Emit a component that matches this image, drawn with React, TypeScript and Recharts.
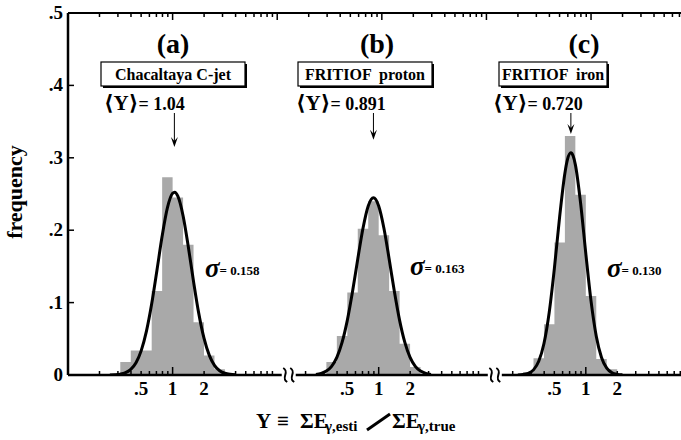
import React from "react";
import { ComposedChart, Area, Line, Scatter, XAxis, YAxis } from "recharts";

// ---- panel descriptions ----
const panelNames = ["(a)", "(b)", "(c)"];
const panelSamples = ["Chacaltaya C-jet", "FRITIOF  proton", "FRITIOF  iron"];
const meanY = [1.04, 0.891, 0.72];
const meanLabels = ["1.04", "0.891", "0.720"];
const sigmaLabels = ["0.158", "0.163", "0.130"];
// where log10(Y)=0 of each panel sits along the broken axis (in decades)
const panelOffsets = [0, 1.97, 3.95];
const axisBreaks = [1.11, 3.08];
// arrow tip heights (frequency)
const arrowTips = [0.315, 0.325, 0.333];

// ---- histograms: bin edges in log10(Y), frequencies ----
const histAEdges = [-0.5, -0.4, -0.3, -0.2, -0.1, 0, 0.1, 0.2, 0.3, 0.4, 0.5];
const histAFreq = [0.018, 0.034, 0.034, 0.116, 0.273, 0.245, 0.18, 0.073, 0.027, 0.008];
const histBEdges = [-0.5, -0.4, -0.3, -0.2, -0.1, 0, 0.1, 0.2, 0.3, 0.4];
const histBFreq = [0.018, 0.054, 0.114, 0.202, 0.24, 0.193, 0.116, 0.043, 0.011];
const histCEdges = [-0.6, -0.5, -0.4, -0.3, -0.2, -0.1, 0, 0.1, 0.2, 0.3];
const histCFreq = [0.004, 0.023, 0.07, 0.183, 0.33, 0.249, 0.109, 0.022, 0.008];

// ---- fitted curves: log10(Y), frequency ----
const curveAX = [-0.6, -0.55, -0.5, -0.45, -0.4, -0.35, -0.3, -0.25, -0.2, -0.15, -0.1, -0.05, 0, 0.02, 0.05, 0.1, 0.15, 0.2, 0.25, 0.3, 0.35, 0.4, 0.45, 0.5, 0.55, 0.6];
const curveAY = [0.0001, 0.0004, 0.0012, 0.0032, 0.0078, 0.017, 0.0337, 0.0606, 0.0983, 0.1444, 0.192, 0.2308, 0.251, 0.2525, 0.247, 0.22, 0.1772, 0.1291, 0.0851, 0.0508, 0.0274, 0.0134, 0.0059, 0.0024, 0.0009, 0.0003];
const curveBX = [-0.6, -0.55, -0.5, -0.45, -0.4, -0.35, -0.3, -0.25, -0.2, -0.15, -0.1, -0.05, 0, 0.05, 0.1, 0.15, 0.2, 0.25, 0.3, 0.35, 0.4, 0.45, 0.5];
const curveBY = [0.0008, 0.0022, 0.0054, 0.012, 0.0244, 0.045, 0.0755, 0.1153, 0.1602, 0.2027, 0.2334, 0.2447, 0.2334, 0.2027, 0.1602, 0.1153, 0.0755, 0.045, 0.0244, 0.012, 0.0054, 0.0022, 0.0008];
const curveCX = [-0.65, -0.6, -0.55, -0.5, -0.45, -0.4, -0.35, -0.3, -0.25, -0.2, -0.175, -0.143, -0.12, -0.1, -0.05, 0, 0.05, 0.1, 0.15, 0.2, 0.25, 0.3, 0.35];
const curveCY = [0.0001, 0.0006, 0.0023, 0.0071, 0.0189, 0.0435, 0.0864, 0.148, 0.2187, 0.2788, 0.2978, 0.3069, 0.3021, 0.2906, 0.2376, 0.1676, 0.102, 0.0535, 0.0242, 0.0095, 0.0032, 0.0009, 0.0002];

// ---- axes ----
const yTicks = [0, 0.1, 0.2, 0.3, 0.4, 0.5];
const yTickLabels = ["0", ".1", ".2", ".3", ".4", ".5"];
const bottomTickMultipliers = [0.2, 0.3, 0.4, 0.5, 0.6, 0.7, 0.8, 0.9, 1, 2, 3, 4, 5, 6, 7, 8, 9];
const labeledMultipliers = [0.5, 1, 2];
const labeledTexts = [".5", "1", "2"];
const topTickDecades = [-1, 0, 1, 2, 3, 4];
const topTickMultipliers = [1, 2, 3, 4, 5, 6, 7, 8, 9];
const xDomain: [number, number] = [-1, 4.946];

const FONT = "'Liberation Serif', 'DejaVu Serif', serif";

const histTables = [
  [histAEdges, histAFreq],
  [histBEdges, histBFreq],
  [histCEdges, histCFreq],
].map(([edges, freq], p) => {
  const pts = freq.map((f, i) => ({ x: panelOffsets[p] + edges[i], y: f }));
  pts.push({ x: panelOffsets[p] + edges[edges.length - 1], y: freq[freq.length - 1] });
  return pts;
});

const curveTables = [
  [curveAX, curveAY],
  [curveBX, curveBY],
  [curveCX, curveCY],
].map(([xs, ys], p) => xs.map((v, i) => ({ x: panelOffsets[p] + v, y: ys[i] })));

const arrowData = meanY.map((m, p) => ({ x: panelOffsets[p] + Math.log10(m), y: arrowTips[p] }));

type TickMeta = { g: number; kind: "minor" | "major" | "break"; label?: string };
const bottomMeta: TickMeta[] = [];
panelOffsets.forEach((off) => {
  bottomTickMultipliers.forEach((m) => {
    const g = off + Math.log10(m);
    if (g > xDomain[1]) return;
    const li = labeledMultipliers.indexOf(m);
    bottomMeta.push({ g, kind: m === 1 ? "major" : "minor", label: li >= 0 ? labeledTexts[li] : undefined });
  });
});
axisBreaks.forEach((b) => bottomMeta.push({ g: b, kind: "break" }));
const bottomTicks = bottomMeta.map((t) => t.g);

const topMeta: TickMeta[] = [];
topTickDecades.forEach((k) => {
  topTickMultipliers.forEach((m) => {
    const g = k + Math.log10(m);
    if (g <= xDomain[0] + 1e-6 || g > xDomain[1]) return;
    topMeta.push({ g, kind: m === 1 ? "major" : "minor" });
  });
});
const topTicks = topMeta.map((t) => t.g);

const BottomTick = (props: any) => {
  const { x, y, payload } = props;
  const meta = bottomMeta.find((t) => Math.abs(t.g - payload.value) < 1e-9);
  if (!meta) return null;
  if (meta.kind === "break") {
    return (
      <g>
        <rect x={x - 7} y={y - 3} width={14} height={6} fill="#fff" />
        {[-3.5, 3.5].map((dx) => (
          <path
            key={dx}
            d={`M ${x + dx - 2} ${y - 7} C ${x + dx + 5} ${y - 3}, ${x + dx - 5} ${y + 3}, ${x + dx + 2} ${y + 7}`}
            stroke="#000"
            strokeWidth={2}
            fill="none"
          />
        ))}
      </g>
    );
  }
  const len = meta.kind === "major" ? 8 : 4;
  return (
    <g>
      <line x1={x} x2={x} y1={y} y2={y - len} stroke="#000" strokeWidth={1.5} />
      {meta.label && (
        <text x={x} y={y + 20} textAnchor="middle" fontFamily={FONT} fontWeight="bold" fontSize={19} fill="#000">
          {meta.label}
        </text>
      )}
    </g>
  );
};

const TopTick = (props: any) => {
  const { x, y, payload } = props;
  const meta = topMeta.find((t) => Math.abs(t.g - payload.value) < 1e-9);
  if (!meta) return null;
  const len = meta.kind === "major" ? 7 : 4;
  return <line x1={x} x2={x} y1={y} y2={y + len} stroke="#000" strokeWidth={1.5} />;
};

const LeftTick = (props: any) => {
  const { x, y, payload } = props;
  const i = yTicks.findIndex((t) => Math.abs(t - payload.value) < 1e-9);
  return (
    <g>
      {i > 0 && i < yTicks.length - 1 && <line x1={x} x2={x + 6} y1={y} y2={y} stroke="#000" strokeWidth={1.5} />}
      <text x={x - 5} y={y + 6} textAnchor="end" fontFamily={FONT} fontWeight="bold" fontSize={19} fill="#000">
        {yTickLabels[i]}
      </text>
    </g>
  );
};

const ArrowShape = (props: any) => {
  const { cx, cy } = props;
  if (cx == null || cy == null) return null;
  return (
    <g>
      <line x1={cx} x2={cx} y1={113} y2={cy - 4} stroke="#000" strokeWidth={1} />
      <path d={`M ${cx - 3.5} ${cy - 10} L ${cx} ${cy} L ${cx + 3.5} ${cy - 10} L ${cx} ${cy - 6} Z`} fill="#000" />
    </g>
  );
};

const boxGeom = [
  { x: 101, w: 144 },
  { x: 298, w: 134 },
  { x: 499, w: 108 },
];
const titleX = [173, 377, 584];
const meanTextX = [104, 296, 493];
const sigmaX = [205, 410, 607];
const sigmaY = [277, 275, 277];

export default function App() {
  return (
    <div style={{ position: "absolute", left: 0, top: 0, width: 681, height: 440, overflow: "hidden", background: "#fff" }}>
      <ComposedChart width={700} height={440} margin={{ top: 12, right: 10, bottom: 64, left: 67 }}>
        <XAxis
          xAxisId="b"
          dataKey="x"
          type="number"
          domain={xDomain}
          allowDataOverflow
          ticks={bottomTicks}
          interval={0}
          tick={<BottomTick />}
          tickLine={false}
          tickSize={0}
          tickMargin={0}
          height={1}
          axisLine={{ stroke: "#000", strokeWidth: 2.5 }}
        />
        <XAxis
          xAxisId="t"
          orientation="top"
          dataKey="x"
          type="number"
          domain={xDomain}
          allowDataOverflow
          ticks={topTicks}
          interval={0}
          tick={<TopTick />}
          tickLine={false}
          tickSize={0}
          tickMargin={0}
          height={1}
          axisLine={{ stroke: "#000", strokeWidth: 2 }}
        />
        <YAxis
          yAxisId="y"
          type="number"
          domain={[0, 0.5]}
          allowDataOverflow
          ticks={yTicks}
          interval={0}
          tick={<LeftTick />}
          tickLine={false}
          tickSize={0}
          tickMargin={0}
          width={1}
          axisLine={{ stroke: "#000", strokeWidth: 2.5 }}
        />
        {histTables.map((d, p) => (
          <Area
            key={"h" + p}
            xAxisId="b"
            yAxisId="y"
            data={d}
            dataKey="y"
            type="stepAfter"
            stroke="none"
            fill="#a9a9a9"
            fillOpacity={1}
            isAnimationActive={false}
            dot={false}
            activeDot={false}
          />
        ))}
        {curveTables.map((d, p) => (
          <Line
            key={"c" + p}
            xAxisId="b"
            yAxisId="y"
            data={d}
            dataKey="y"
            type="monotone"
            stroke="#000"
            strokeWidth={3}
            dot={false}
            activeDot={false}
            isAnimationActive={false}
          />
        ))}
        <Scatter
          xAxisId="b"
          yAxisId="y"
          data={arrowData}
          dataKey="y"
          shape={<ArrowShape />}
          isAnimationActive={false}
        />
      </ComposedChart>
      <svg
        width={681}
        height={440}
        style={{ position: "absolute", left: 0, top: 0, pointerEvents: "none" }}
        fontFamily={FONT}
      >
        {panelNames.map((n, p) => (
          <g key={n}>
            <text x={titleX[p]} y={53} textAnchor="middle" fontWeight="bold" fontSize={28}>
              {n}
            </text>
            <rect x={boxGeom[p].x + 2} y={64} width={boxGeom[p].w} height={24} fill="#000" />
            <rect x={boxGeom[p].x} y={62} width={boxGeom[p].w} height={24} fill="#fff" stroke="#000" strokeWidth={1.2} />
            <text
              x={boxGeom[p].x + boxGeom[p].w / 2}
              y={79.5}
              textAnchor="middle"
              fontWeight="bold"
              fontSize={16}
              style={{ whiteSpace: "pre" }}
            >
              {panelSamples[p]}
            </text>
            <text x={meanTextX[p]} y={110} fontWeight="bold" fontSize={21} style={{ whiteSpace: "pre" }}>
              {"⟨Y⟩"}
              <tspan fontSize={18}>{"= " + meanLabels[p]}</tspan>
            </text>
            <text x={sigmaX[p]} y={sigmaY[p]} fontWeight="bold" style={{ whiteSpace: "pre" }}>
              <tspan fontSize={27} fontStyle="italic">σ</tspan>
              <tspan fontSize={13} dy={-2}>{"= " + sigmaLabels[p]}</tspan>
            </text>
          </g>
        ))}
        <text x={22} y={192} transform="rotate(-90 22 192)" textAnchor="middle" fontWeight="bold" fontSize={22}>
          frequency
        </text>
        <g fontWeight="bold" style={{ whiteSpace: "pre" }}>
          <text x={256} y={428} fontSize={21}>Y</text>
          <text x={277} y={428} fontSize={21}>≡</text>
          <text x={300} y={428} fontSize={21}>ΣE</text>
          <text x={325} y={431} fontSize={15}>γ,esti</text>
          <line x1={367} y1={430} x2={390} y2={414} stroke="#000" strokeWidth={3} />
          <text x={392} y={428} fontSize={21}>ΣE</text>
          <text x={418} y={431} fontSize={15}>γ,true</text>
        </g>
      </svg>
    </div>
  );
}
